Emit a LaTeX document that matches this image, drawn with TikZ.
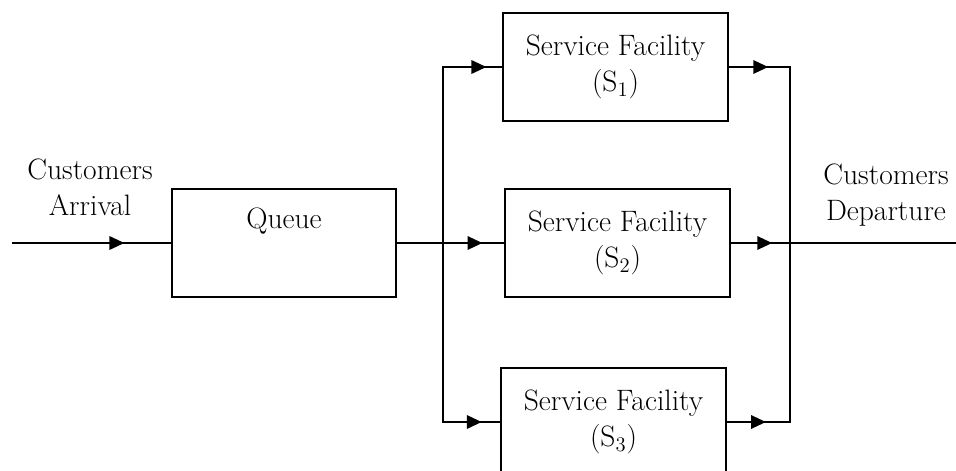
\documentclass[tikz,border=0pt]{standalone}
\usetikzlibrary{arrows.meta,decorations.markings}

\begin{document}
\begin{tikzpicture}[x=0.02cm, y=-0.02cm, line width=0.9pt,
  font=\fontsize{16.8}{20.5}\selectfont,
  box/.style={draw, minimum width=4.5cm, minimum height=2.16cm, align=center, inner sep=0pt},
  shaft/.style={line width=1.5pt, -{Triangle[length=8.5pt,width=7.5pt]}},
  flow/.style 2 args={postaction={decorate},
    decoration={markings, mark=at position #1 with {\draw[shaft] (-#2,0) -- (0,0);}}}]

\clip (0,0) rectangle (956,470);

% 待ち行列
\node[box, minimum width=4.48cm] (queue) at (284,243) {};
\node[anchor=base] (queuetext) at (284,228) {Queue};

% サービス窓口
\node[box] (s1) at (615.5,67) {Service Facility\\(S\textsubscript{1})};
\node[box] (s2) at (617.5,243) {Service Facility\\(S\textsubscript{2})};
\node[box] (s3) at (613.5,422) {Service Facility\\(S\textsubscript{3})};

% ラベル
\node[align=center] (arrival) at (90,187) {Customers\\Arrival};
\node[align=center] (departure) at (886,195) {Customers\\Departure};

% 分岐点
\coordinate (in) at (12,243);
\coordinate (split) at (443,243);
\coordinate (join) at (790,243);
\coordinate (out) at (956,243);

% 到着
\draw[flow={0.706}{30pt}] (in) -- (queue.west);
\draw (queue.east) -- (split);

% 分岐
\draw[line cap=rect] (s1.west -| split) -- (s3.west -| split);
\draw[flow={0.733}{17pt}] (s1.west -| split) -- (s1.west);
\draw[flow={0.645}{17pt}] (split) -- (s2.west);
\draw[flow={0.678}{16pt}] (s3.west -| split) -- (s3.west);

% 合流・退去
\draw[line cap=rect] (s1.east -| join) -- (s3.east -| join);
\draw[flow={0.645}{17pt}] (s1.east) -- (s1.east -| join);
\draw[flow={0.7}{18pt}] (s2.east) -- (join);
\draw[flow={0.62}{16pt}] (s3.east) -- (s3.east -| join);
\draw (join) -- (out);

\end{tikzpicture}
\end{document}
